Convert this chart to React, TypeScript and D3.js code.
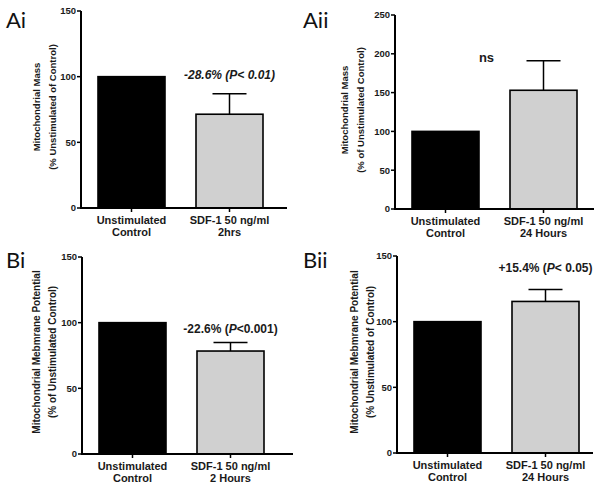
import React from "react";
import * as d3 from "d3";

// ---- data ----
const panelIds = ["Ai", "Aii", "Bi", "Bii"];
const controlValues = [100, 100, 100, 100];
const sdfValues = [71.4, 153, 78.4, 115.4];
const sdfErrors = [15.6, 38, 6.5, 9];
const yMaxValues = [150, 250, 150, 150];
const yTickStep = 50;
const controlLabel = ["Unstimulated", "Control"];
const sdfLabels = [
  ["SDF-1 50 ng/ml", "2hrs"],
  ["SDF-1 50 ng/ml", "24 Hours"],
  ["SDF-1 50 ng/ml", "2 Hours"],
  ["SDF-1 50 ng/ml", "24 Hours"],
];
const yTitles = [
  ["Mitochondrial Mass", "(% Unstimulated of Control)"],
  ["Mitochondrial Mass", "(% of Unstimulated Control)"],
  ["Mitochondrial Mebmrane Potential", "(% of Unstimulated Control)"],
  ["Mitochondrial Mebmrane Potential", "(% Unstimulated of Control)"],
];
// annotation parts: [text, italic]
const annotations: [string, boolean][][] = [
  [["-28.6% (P< 0.01)", true]],
  [["ns", false]],
  [["-22.6% (", false], ["P", true], ["<0.001)", false]],
  [["+15.4% (", false], ["P", true], ["< 0.05)", false]],
];

// ---- layout ----
const layout = [
  { ax: 81, xEnd: 287, yTop: 11, yBot: 208, titleX: [37, 53], titleY: 107, labelX: 6, labelY: 28, annDx: 0, annY: 79, annFs: 12, titleFs: 9.5 },
  { ax: 395, xEnd: 594, yTop: 15, yBot: 209, titleX: [345, 361], titleY: 110, labelX: 303, labelY: 28, annDx: -57, annY: 62, annFs: 13, titleFs: 9.5 },
  { ax: 82, xEnd: 293, yTop: 257, yBot: 454, titleX: [37, 53], titleY: 352, labelX: 6, labelY: 268, annDx: 0, annY: 333, annFs: 12, titleFs: 10 },
  { ax: 397, xEnd: 593, yTop: 256, yBot: 453, titleX: [355, 371], titleY: 352, labelX: 303, labelY: 268, annDx: 0, annY: 272, annFs: 12, titleFs: 10 },
];

const FONT = "'Liberation Sans', Arial, sans-serif";

function Panel({ i }: { i: number }) {
  const L = layout[i];
  const y = d3.scaleLinear().domain([0, yMaxValues[i]]).range([L.yBot, L.yTop]);
  const x = d3
    .scaleBand<number>()
    .domain([0, 1])
    .range([L.ax + 17, L.ax + 17 + 165])
    .paddingInner(31 / 98)
    .paddingOuter(0);
  const ticks = d3.range(0, yMaxValues[i] + 1, yTickStep);
  const vals = [controlValues[i], sdfValues[i]];
  const fills = ["#000000", "#d0d0d0"];
  const labels = [controlLabel, sdfLabels[i]];
  const bw = x.bandwidth();
  const errX = (x(1) as number) + bw / 2;
  const errTop = y(sdfValues[i] + sdfErrors[i]);
  const annX = errX + L.annDx;
  return (
    <g>
      <text x={L.labelX} y={L.labelY} fontFamily="Lato, 'Open Sans', sans-serif" fontSize={22} fill="#111">
        {panelIds[i]}
      </text>
      {vals.map((v, k) => (
        <rect
          key={k}
          x={x(k)}
          y={y(v)}
          width={bw}
          height={L.yBot - y(v)}
          fill={fills[k]}
          stroke="#000"
          strokeWidth={1.6}
        />
      ))}
      <line x1={errX} x2={errX} y1={y(sdfValues[i])} y2={errTop} stroke="#000" strokeWidth={1.5} />
      <line x1={errX - 17} x2={errX + 17} y1={errTop} y2={errTop} stroke="#000" strokeWidth={1.5} />
      <line x1={L.ax} x2={L.ax} y1={L.yTop} y2={L.yBot} stroke="#000" strokeWidth={2} />
      {ticks.map((t) => (
        <g key={t}>
          <line x1={L.ax - 4} x2={L.ax} y1={y(t)} y2={y(t)} stroke="#000" strokeWidth={1.5} />
          <text
            x={L.ax - 5}
            y={y(t)}
            dy="0.35em"
            textAnchor="end"
            fontFamily={FONT}
            fontWeight="bold"
            fontSize={9.5}
            fill="#1a1a1a"
          >
            {t}
          </text>
        </g>
      ))}
      <line x1={L.ax - 1} x2={L.xEnd} y1={L.yBot} y2={L.yBot} stroke="#000" strokeWidth={2} />
      {[0, 1].map((k) => (
        <g key={k}>
          <line
            x1={(x(k) as number) + bw / 2}
            x2={(x(k) as number) + bw / 2}
            y1={L.yBot}
            y2={L.yBot + 4}
            stroke="#000"
            strokeWidth={1.5}
          />
          {labels[k].map((s, j) => (
            <text
              key={j}
              x={(x(k) as number) + bw / 2}
              y={L.yBot + 16 + j * 12}
              textAnchor="middle"
              fontFamily={FONT}
              fontWeight="bold"
              fontSize={11}
              fill="#1a1a1a"
            >
              {s}
            </text>
          ))}
        </g>
      ))}
      {yTitles[i].map((s, j) => (
        <text
          key={j}
          transform={`translate(${L.titleX[j] + 3},${L.titleY}) rotate(-90)`}
          textAnchor="middle"
          fontFamily={FONT}
          fontWeight="bold"
          fontSize={L.titleFs}
          fill="#1a1a1a"
        >
          {s}
        </text>
      ))}
      <text
        x={annX}
        y={L.annY}
        textAnchor="middle"
        fontFamily={FONT}
        fontWeight="bold"
        fontSize={L.annFs}
        fill="#1a1a1a"
      >
        {annotations[i].map(([s, it], j) => (
          <tspan key={j} fontStyle={it ? "italic" : "normal"}>
            {s}
          </tspan>
        ))}
      </text>
    </g>
  );
}

export default function App() {
  return (
    <svg
      width={601}
      height={489}
      style={{ position: "absolute", left: 0, top: 0, background: "#fff" }}
    >
      <rect width={601} height={489} fill="#fff" />
      {panelIds.map((_, i) => (
        <Panel key={i} i={i} />
      ))}
    </svg>
  );
}
